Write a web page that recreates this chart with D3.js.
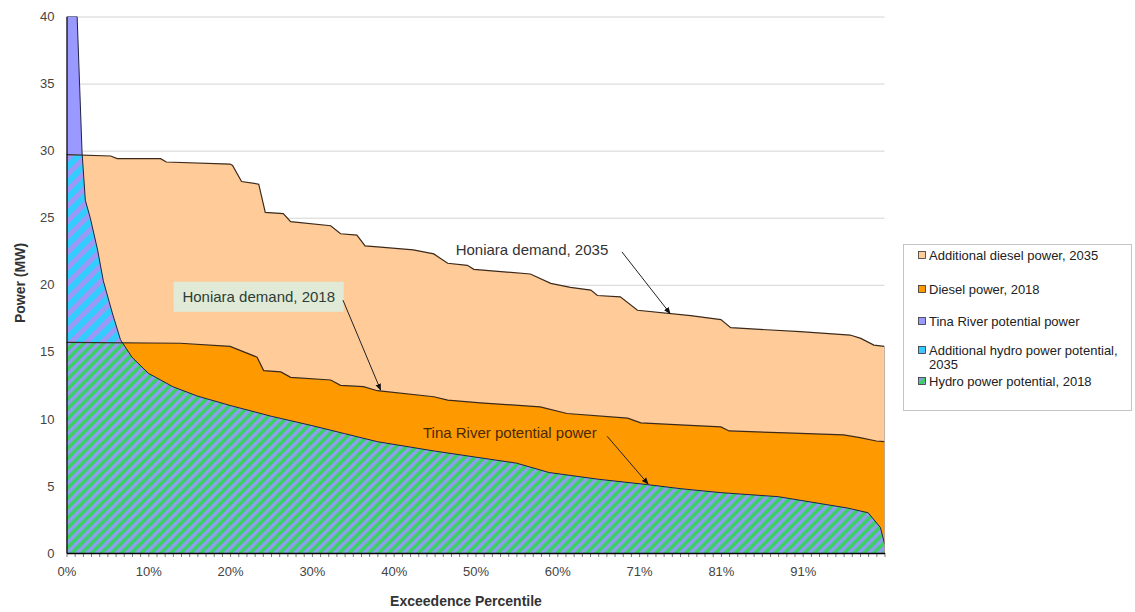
<!DOCTYPE html>
<html>
<head>
<meta charset="utf-8">
<script src="https://cdn.jsdelivr.net/npm/d3@7"></script>
<style>
  body { margin: 0; background: #fff; }
  text { font-family: "Liberation Sans", Arial, sans-serif; }
</style>
</head>
<body>
<svg id="chart" width="1135" height="612"></svg>
<script>
// Tick values and labels (Excel category axis shows these labels)
const pctTicks = [0, 10, 20, 30, 40, 50, 60, 70, 80, 90];
const pctLabels = ['0%', '10%', '20%', '30%', '40%', '50%', '60%', '71%', '81%', '91%'];
const powerTicks = [0, 5, 10, 15, 20, 25, 30, 35, 40];

// [exceedence %, MW]
const demand2035 = [
  [0, 29.7], [5.4, 29.6], [6.2, 29.4], [11.5, 29.4], [12.2, 29.15], [20.0, 29.0],
  [20.3, 28.9], [21.4, 27.7], [23.5, 27.5], [24.3, 25.4], [26.5, 25.3], [27.4, 24.7],
  [32.3, 24.4], [33.5, 23.8], [35.5, 23.7], [36.5, 22.9], [38.4, 22.8], [42.4, 22.6],
  [44.9, 22.3], [46.6, 21.6], [49.0, 21.45], [49.8, 21.15], [56.7, 20.8], [59.2, 20.1],
  [61.6, 19.8], [64.1, 19.6], [64.9, 19.2], [67.7, 19.1], [69.8, 18.1], [76.3, 17.7],
  [80.0, 17.4], [81.2, 16.8], [89.7, 16.5], [95.8, 16.25], [97.1, 16.0], [98.7, 15.5],
  [100, 15.4],
];

const demand2018 = [
  [0, 15.7], [13.9, 15.64], [20.0, 15.4], [23.3, 14.6], [24.1, 13.6], [26.2, 13.5],
  [27.4, 13.1], [32.3, 12.9], [33.5, 12.5], [36.3, 12.4], [38.0, 12.1], [44.9, 11.65],
  [46.6, 11.4], [50.6, 11.2], [57.9, 10.9], [61.2, 10.4], [68.6, 10.05], [70.2, 9.7],
  [75.0, 9.55], [80.0, 9.4], [81.0, 9.1], [88.0, 8.95], [95.0, 8.8], [97.0, 8.6],
  [99.0, 8.35], [100, 8.3],
];

const tinaRiver = [
  [0, 40], [1.3, 40], [1.9, 29.9], [2.3, 26.3], [2.9, 25.0], [3.8, 22.6], [4.5, 20.3],
  [5.6, 17.9], [6.6, 15.9], [8, 14.6], [10, 13.4], [13, 12.4], [16, 11.7], [20, 11.0],
  [25, 10.2], [30, 9.5], [34, 8.9], [38, 8.3], [45, 7.6], [50, 7.15], [55, 6.7],
  [59, 6.0], [65, 5.5], [71, 5.1], [75, 4.8], [80, 4.5], [87, 4.2], [92, 3.7],
  [95.5, 3.35], [98, 3.0], [99.5, 1.9], [100, 0.7],
];

const legendLabels = [
  ['Additional diesel power, 2035'],
  ['Diesel power, 2018'],
  ['Tina River potential power'],
  ['Additional hydro power potential,', '2035'],
  ['Hydro power potential, 2018'],
];

// Annotations: label centre and arrow [from, to] in data units
const notes = [
  { text: 'Honiara demand, 2035', at: [56.9, 22.6], from: [67.9, 22.45], to: [73.8, 17.85], color: '#333' },
  { text: 'Honiara demand, 2018', at: [23.5, 19.1], from: [33.8, 18.85], to: [38.4, 12.15], color: '#2d3d35', box: true },
  { text: 'Tina River potential power', at: [54.2, 8.95], from: [66.1, 8.7], to: [71.1, 5.15], color: '#4a2a05' },
];

// Basic layout
const margin = { top: 16.5, left: 66.5 };
const width = 818;
const height = 536.5;

const svgRoot = d3.select('#chart');
const defs = svgRoot.append('defs');

// Hatch patterns (wide upward diagonal)
function hatch(id, bg, fg, size, stripe) {
  const p = defs.append('pattern')
    .attr('id', id)
    .attr('patternUnits', 'userSpaceOnUse')
    .attr('width', size)
    .attr('height', size)
    .attr('patternTransform', 'rotate(45)');
  p.append('rect').attr('width', size).attr('height', size).attr('fill', bg);
  p.append('rect').attr('width', stripe).attr('height', size).attr('fill', fg);
}
hatch('hatchGreen', '#38d35e', '#8f9cf0', 7, 3.5);
hatch('hatchCyan', '#33ccff', '#9b98f6', 11, 5);

const svg = svgRoot.append('g')
  .attr('transform', `translate(${margin.left},${margin.top})`);

const x = d3.scaleLinear().domain([0, 100]).range([0, width]);
const y = d3.scaleLinear().domain([0, 40]).range([height, 0]);

// Gridlines
svg.append('g')
  .call(d3.axisLeft(y).tickValues(powerTicks.slice(1)).tickSize(-width).tickFormat(''))
  .call((g) => g.select('.domain').remove())
  .call((g) => g.selectAll('line').attr('stroke', '#d4d4d4').attr('stroke-width', 1));

const area = d3.area()
  .x((d) => x(d[0]))
  .y0(height)
  .y1((d) => y(d[1]));

const line = d3.line()
  .x((d) => x(d[0]))
  .y((d) => y(d[1]));

// Clip paths
defs.append('clipPath').attr('id', 'plotClip')
  .append('rect').attr('x', margin.left).attr('y', margin.top).attr('width', width).attr('height', height);
defs.append('clipPath').attr('id', 'clip2035')
  .append('path').attr('transform', `translate(${margin.left},${margin.top})`).attr('d', area(demand2035));
defs.append('clipPath').attr('id', 'clip2018')
  .append('path').attr('transform', `translate(${margin.left},${margin.top})`).attr('d', area(demand2018));

const plot = svgRoot.append('g').attr('clip-path', 'url(#plotClip)')
  .append('g').attr('transform', `translate(${margin.left},${margin.top})`);

// Tina River potential (above 2035 demand)
plot.append('path').datum(tinaRiver).attr('d', area).attr('fill', '#9999ff');
// Additional diesel 2035
plot.append('path').datum(demand2035).attr('d', area).attr('fill', '#ffcc99');
// Diesel 2018
plot.append('path').datum(demand2018).attr('d', area).attr('fill', '#ff9900');

// Additional hydro 2035 and hydro 2018 (hatched, clipped by demand)
svgRoot.append('g').attr('clip-path', 'url(#clip2035)')
  .append('path').datum(tinaRiver)
  .attr('transform', `translate(${margin.left},${margin.top})`)
  .attr('d', area).attr('fill', 'url(#hatchCyan)');
svgRoot.append('g').attr('clip-path', 'url(#clip2018)')
  .append('path').datum(tinaRiver)
  .attr('transform', `translate(${margin.left},${margin.top})`)
  .attr('d', area).attr('fill', 'url(#hatchGreen)');

// Series borders
const borders = svgRoot.append('g').attr('clip-path', 'url(#plotClip)')
  .append('g').attr('transform', `translate(${margin.left},${margin.top})`);
borders.append('path').datum(demand2035).attr('d', line)
  .attr('fill', 'none').attr('stroke', '#3b2a1c').attr('stroke-width', 1.2);
borders.append('path').datum(demand2018).attr('d', line)
  .attr('fill', 'none').attr('stroke', '#3b2a1c').attr('stroke-width', 1.2);
borders.append('path').datum(tinaRiver).attr('d', line)
  .attr('fill', 'none').attr('stroke', '#1f2440').attr('stroke-width', 1);
borders.append('line')
  .attr('x1', x(100)).attr('x2', x(100))
  .attr('y1', y(demand2035[demand2035.length - 1][1])).attr('y2', height)
  .attr('stroke', '#8a7060').attr('stroke-width', 1);

const front = svgRoot.append('g')
  .attr('transform', `translate(${margin.left},${margin.top})`);

// Y axis
const yAxis = front.append('g')
  .call(d3.axisLeft(y).tickValues(powerTicks).tickSize(0).tickPadding(12));
yAxis.select('.domain').attr('stroke', '#000').attr('stroke-width', 1.2);
yAxis.selectAll('text')
  .attr('font-size', 13).attr('fill', '#444')
  .attr('font-family', '"Liberation Sans", Arial, sans-serif');

// X axis: minor ticks each percent, labels every ten
front.append('g')
  .attr('transform', `translate(0,${height})`)
  .call(d3.axisBottom(x).tickValues(d3.range(0, 101, 1)).tickSize(4).tickFormat(''))
  .call((g) => g.select('.domain').remove())
  .call((g) => g.selectAll('line').attr('stroke', '#555').attr('stroke-width', 0.8));

const xAxis = front.append('g')
  .attr('transform', `translate(0,${height})`)
  .call(d3.axisBottom(x).tickValues(pctTicks).tickSize(0).tickPadding(14)
    .tickFormat((d, i) => pctLabels[i]));
xAxis.select('.domain').attr('stroke', '#000').attr('stroke-width', 1.6);
xAxis.selectAll('text')
  .attr('font-size', 13).attr('fill', '#444')
  .attr('font-family', '"Liberation Sans", Arial, sans-serif');

// Axis titles
svgRoot.append('text')
  .attr('x', 466).attr('y', 606)
  .attr('text-anchor', 'middle')
  .attr('font-size', 14).attr('font-weight', 'bold').attr('fill', '#333')
  .text('Exceedence Percentile');
svgRoot.append('text')
  .attr('transform', 'translate(25,283) rotate(-90)')
  .attr('text-anchor', 'middle')
  .attr('font-size', 14).attr('font-weight', 'bold').attr('fill', '#333')
  .text('Power (MW)');

// Arrowhead marker
defs.append('marker')
  .attr('id', 'arrow')
  .attr('viewBox', '0 0 10 10')
  .attr('refX', 9).attr('refY', 5)
  .attr('markerWidth', 7).attr('markerHeight', 7)
  .attr('orient', 'auto')
  .append('path').attr('d', 'M0,1 L10,5 L0,9 Z').attr('fill', '#111');

// Annotations
notes.forEach((n) => {
  if (n.box) {
    front.append('rect')
      .attr('x', x(n.at[0]) - 85).attr('y', y(n.at[1]) - 15)
      .attr('width', 170).attr('height', 30)
      .attr('fill', '#e1ead7');
  }
  front.append('line')
    .attr('x1', x(n.from[0])).attr('y1', y(n.from[1]))
    .attr('x2', x(n.to[0])).attr('y2', y(n.to[1]))
    .attr('stroke', '#222').attr('stroke-width', 1)
    .attr('marker-end', 'url(#arrow)');
  front.append('text')
    .attr('x', x(n.at[0])).attr('y', y(n.at[1]))
    .attr('dy', '0.36em')
    .attr('text-anchor', 'middle')
    .attr('font-size', 15).attr('fill', n.color)
    .text(n.text);
});

// Legend
const legendFills = ['#ffcc99', '#ff9900', '#9999ff', 'url(#hatchCyan)', 'url(#hatchGreen)'];
const legendY = [255, 289, 321, 350, 381];
const legend = svgRoot.append('g');
legend.append('rect')
  .attr('x', 903.5).attr('y', 244.5).attr('width', 228).attr('height', 166)
  .attr('fill', '#fff').attr('stroke', '#c4c4c4');
legendLabels.forEach((lines, i) => {
  legend.append('rect')
    .attr('x', 918.5).attr('y', legendY[i] - 3.5).attr('width', 7).attr('height', 7)
    .attr('fill', legendFills[i]).attr('stroke', '#333').attr('stroke-width', 0.8);
  lines.forEach((t, j) => {
    legend.append('text')
      .attr('x', 929).attr('y', legendY[i] + j * 14)
      .attr('dy', '0.35em')
      .attr('font-size', 13).attr('fill', '#222')
      .text(t);
  });
});
</script>
</body>
</html>
